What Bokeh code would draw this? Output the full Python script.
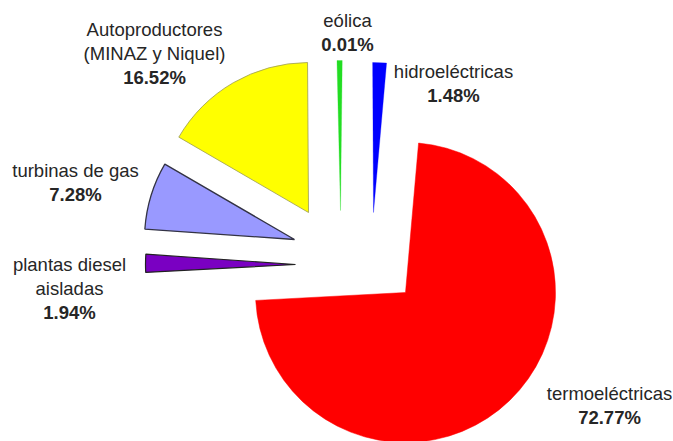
import math
from bokeh.plotting import figure
from bokeh.models import Range1d, ColumnDataSource
from bokeh.embed import file_html
from bokeh.resources import INLINE
from bokeh.core.properties import value

# ---- data ----
categories = ["termoeléctricas", "plantas diesel aisladas", "turbinas de gas",
              "Autoproductores (MINAZ y Niquel)", "eólica", "hidroeléctricas"]
shares = [72.77, 1.94, 7.28, 16.52, 0.01, 1.48]
name_lines = [["termoeléctricas"], ["plantas diesel", "aisladas"], ["turbinas de gas"],
              ["Autoproductores", "(MINAZ y Niquel)"], ["eólica"], ["hidroeléctricas"]]
pct_labels = ["72.77%", "1.94%", "7.28%", "16.52%", "0.01%", "1.48%"]

# ---- style / layout ----
colors = ["#ff0000", "#7a00c2", "#9999ff", "#ffff00", "#22dd22", "#0000ff"]
outline = ["#ff0000", "#222222", "#333344", "#9a9a55", "#22dd22", "#0000ff"]
outline_w = [0.5, 1.2, 1.3, 0.8, 0.3, 0.3]
W, H = 673, 441
R = 150
CX, CY = 405, H - 292          # pie centre (vertex of the main slice)
START_DEG = 85                  # first slice starts here, drawn clockwise
MIN_DEG = 2.0                   # minimum visible angle for tiny slices
# explode offsets (px) per slice
explode = [(0, 0), (-110, 28), (-111, 53), (-97, 80), (-65, 82), (-32, 80)]
# label anchors: (x centre, y of first line centre in image coords)
label_pos = [(609, 393), (69, 264), (75, 170), (154, 29), (347, 20), (453, 71)]
LINE_H = 24
FONT = "Liberation Sans"
FSIZE = "18.5px"
TXT_COLOR = "#262626"

# ---- geometry from data ----
xs, ys, starts, ends = [], [], [], []
cum = 0.0
for v, (dx, dy) in zip(shares, explode):
    a0 = START_DEG - cum * 3.6
    a1 = START_DEG - (cum + v) * 3.6
    span = v * 3.6
    if span < MIN_DEG:
        mid = (a0 + a1) / 2
        a0, a1 = mid + MIN_DEG / 2, mid - MIN_DEG / 2
    cum += v
    xs.append(CX + dx)
    ys.append(CY + dy)
    starts.append(math.radians(a1))
    ends.append(math.radians(a0))

src = ColumnDataSource(dict(x=xs, y=ys, start=starts, end=ends, fill=colors,
                            line=outline, lw=outline_w, cat=categories))

p = figure(width=W, height=H, x_range=Range1d(0, W), y_range=Range1d(0, H),
           output_backend="svg", toolbar_location=None, min_border=0)
p.axis.visible = False
p.grid.visible = False
p.outline_line_color = None
p.background_fill_color = "white"

p.wedge(x="x", y="y", radius=R, start_angle="start", end_angle="end",
        direction="anticlock", fill_color="fill", line_color="line",
        line_width="lw", source=src)

tx, ty, tt, tb = [], [], [], []
for lines, pct, (lx, ly) in zip(name_lines, pct_labels, label_pos):
    for i, ln in enumerate(lines + [pct]):
        tx.append(lx)
        ty.append(H - (ly + i * LINE_H))
        tt.append(ln)
        tb.append("bold" if ln == pct else "normal")

tsrc = ColumnDataSource(dict(x=tx, y=ty, text=tt, style=tb))
p.text(x="x", y="y", text="text", text_font=value(FONT), text_font_size=FSIZE,
       text_font_style="style", text_align="center", text_baseline="middle",
       text_color=TXT_COLOR, source=tsrc)

open("out.html", "w").write(file_html(p, INLINE))
